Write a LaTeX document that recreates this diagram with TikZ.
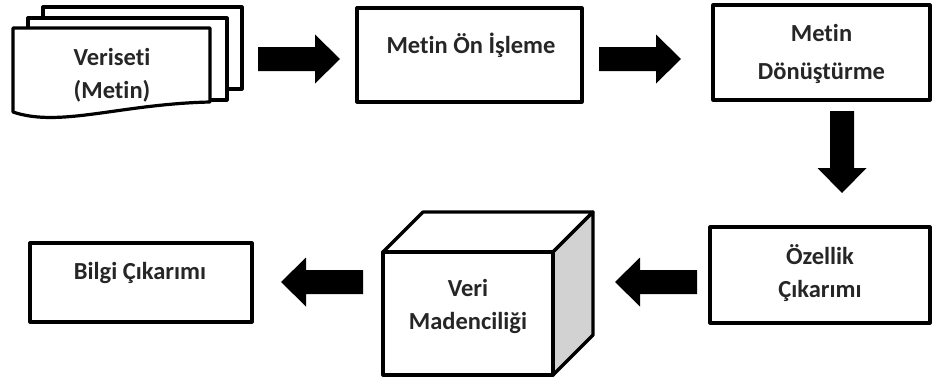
\documentclass[tikz,border=0pt]{standalone}
\usepackage{fontspec}
\setmainfont[Ligatures=NoCommon]{Carlito}
\begin{document}
\begin{tikzpicture}[x=1pt,y=-1pt,line width=3.2pt,line join=round,
  box/.style={draw, fill=white, line width=3.2pt, inner sep=0pt},
  lbl/.style={font=\bfseries\fontsize{24.5}{33}\selectfont, align=center, inner sep=0pt, text=black!85},
  blockarrow/.pic={\fill[black] (0,-12) -- (57,-12) -- (57,-24.5) -- (82,0)
                   -- (57,24.5) -- (57,12) -- (0,12) -- cycle;}]
\useasboundingbox (0,0) rectangle (932,378);

% stacked documents (data set)
\draw[fill=white] (43,7) rectangle (242,89);
\draw[fill=white] (28,18) rectangle (227,100);
\draw[fill=white] (13,28) -- (210,28) -- (210,102)
  .. controls (120,104) and (60,128) .. (13,112) -- cycle;
\node[lbl] (data) at (112,75) {Veriseti\\(Metin)};

% processing boxes
\node[box, minimum width=225pt, minimum height=94pt] (pre) at (469.5,55) {};
\node[lbl] (preT) at (471,45) {Metin Ön İşleme};

\node[box, minimum width=217pt, minimum height=95pt] (trans) at (821.5,52.5) {};
\node[lbl] (transT) at (821.5,53.5) {Metin\\[5pt]Dönüştürme};

\node[box, minimum width=220pt, minimum height=96pt] (feat) at (820,275) {};
\node[lbl] (featT) at (820,273) {Özellik\\Çıkarımı};

\node[box, minimum width=222pt, minimum height=79pt] (info) at (141,282.5) {};
\node[lbl] (infoT) at (140,273) {Bilgi Çıkarımı};

% data mining cube
\draw[fill=white] (383,252) -- (423,212) -- (593,212) -- (553,252) -- cycle;
\draw[fill=gray!35] (553,252) -- (593,212) -- (593,335) -- (553,375) -- cycle;
\draw[fill=white] (383,252) rectangle (553,375);
\node[lbl] (mine) at (468,306.5) {Veri\\Madenciliği};

% block arrows
\pic at (258,59) {blockarrow};
\pic at (599,59) {blockarrow};
\pic[rotate=-90] at (842,111) {blockarrow};
\pic[rotate=180] at (697,282) {blockarrow};
\pic[rotate=180] at (363,282) {blockarrow};
\end{tikzpicture}
\end{document}
